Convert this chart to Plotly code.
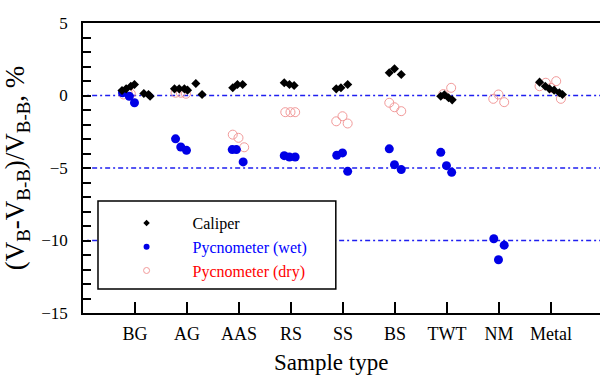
import plotly.graph_objects as go

categories = ["BG", "AG", "AAS", "RS", "SS", "BS", "TWT", "NM", "Metal"]

# Caliper
cal_cat = ["BG"]*7 + ["AG"]*6 + ["AAS"]*3 + ["RS"]*3 + ["SS"]*3 + ["BS"]*3 + ["TWT"]*4 + ["Metal"]*6
cal_dx = [-0.25, -0.17, -0.08, -0.01, 0.17, 0.26, 0.29,
          -0.24, -0.15, -0.05, 0.01, 0.17, 0.29,
          -0.12, -0.03, 0.07,
          -0.13, -0.03, 0.06,
          -0.13, -0.04, 0.09,
          -0.11, -0.01, 0.12,
          -0.12, -0.05, 0.03, 0.10,
          -0.22, -0.11, -0.03, 0.06, 0.16, 0.22]
cal_val = [0.35, 0.46, 0.64, 0.76, 0.14, 0.07, -0.05,
           0.46, 0.46, 0.46, 0.37, 0.83, 0.07,
           0.53, 0.76, 0.76,
           0.88, 0.76, 0.69,
           0.46, 0.53, 0.76,
           1.57, 1.85, 1.45,
           -0.05, 0.05, -0.15, -0.30,
           0.92, 0.64, 0.46, 0.37, 0.19, 0.07]

# Pycnometer (wet)
wet_cat = ["BG"]*3 + ["AG"]*3 + ["AAS"]*3 + ["RS"]*3 + ["SS"]*3 + ["BS"]*3 + ["TWT"]*3 + ["NM"]*3
wet_dx = [-0.24, -0.11, -0.01,
          -0.22, -0.12, -0.01,
          -0.13, -0.05, 0.08,
          -0.13, -0.03, 0.08,
          -0.12, -0.01, 0.09,
          -0.11, -0.01, 0.12,
          -0.12, -0.01, 0.09,
          -0.10, 0.10, -0.01]
wet_val = [0.19, -0.05, -0.50,
           -2.99, -3.55, -3.78,
           -3.73, -3.73, -4.58,
           -4.15, -4.24, -4.24,
           -4.12, -3.96, -5.23,
           -3.68, -4.77, -5.11,
           -3.92, -4.84, -5.30,
           -9.88, -10.32, -11.33]

# Pycnometer (dry)
dry_cat = ["BG"]*3 + ["AG"]*3 + ["AAS"]*3 + ["RS"]*3 + ["SS"]*3 + ["BS"]*3 + ["TWT"]*2 + ["NM"]*3 + ["Metal"]*5
dry_dx = [-0.22, -0.14, -0.08,
          -0.22, -0.12, -0.02,
          -0.12, -0.01, 0.10,
          -0.11, -0.01, 0.08,
          -0.13, -0.01, 0.09,
          -0.11, -0.01, 0.12,
          -0.07, 0.08,
          -0.11, -0.01, 0.10,
          -0.22, -0.10, 0.00, 0.10, 0.19]
dry_val = [0.07, 0.19, 0.12,
           0.19, 0.19, 0.12,
           -2.70, -2.92, -3.57,
           -1.15, -1.15, -1.15,
           -1.78, -1.43, -1.93,
           -0.50, -0.81, -1.08,
           0.10, 0.53,
           -0.23, 0.07, -0.46,
           0.64, 0.88, 0.53, 0.99, -0.23]

ref_lines = [0, -5, -10]
y_ticks = [5, 0, -5, -10, -15]

def xpos(cats, dxs):
    return [categories.index(c) + 1 + d for c, d in zip(cats, dxs)]

FONT = "Liberation Serif"
BLUE = "#0000e6"
RED_LINE = "#f29a9a"

fig = go.Figure()

fig.add_trace(go.Scatter(x=xpos(dry_cat, dry_dx), y=dry_val, mode="markers", showlegend=False,
                         marker=dict(symbol="circle-open", size=9, color=RED_LINE, line=dict(width=1, color=RED_LINE))))
fig.add_trace(go.Scatter(x=xpos(wet_cat, wet_dx), y=wet_val, mode="markers", showlegend=False,
                         marker=dict(symbol="circle", size=9, color=BLUE)))
fig.add_trace(go.Scatter(x=xpos(cal_cat, cal_dx), y=cal_val, mode="markers", showlegend=False,
                         marker=dict(symbol="diamond", size=7, color="black")))

# legend entries
fig.add_trace(go.Scatter(x=[None], y=[None], mode="markers", name="Caliper",
                         marker=dict(symbol="diamond", size=5, color="black")))
fig.add_trace(go.Scatter(x=[None], y=[None], mode="markers",
                         name="<span style='color:#0000ff'>Pycnometer (wet)</span>",
                         marker=dict(symbol="circle", size=6, color=BLUE)))
fig.add_trace(go.Scatter(x=[None], y=[None], mode="markers",
                         name="<span style='color:#ff0000'>Pycnometer (dry)</span>",
                         marker=dict(symbol="circle-open", size=6, color=RED_LINE, line=dict(width=1, color=RED_LINE))))

for v in ref_lines:
    fig.add_shape(type="line", xref="paper", yref="y", x0=0.008, x1=1, y0=v, y1=v,
                  line=dict(color="#1f1ff0", width=1.5, dash="2px,3px,5px,3px"), layer="below")

# legend frame
fig.add_shape(type="rect", xref="paper", yref="paper", x0=0.029, x1=0.489, y0=0.083, y1=0.386,
              fillcolor="white", line=dict(color="black", width=1.5), layer="above")

fig.add_annotation(text="Sample type", xref="paper", yref="paper", x=0.48, y=-0.172,
                   xanchor="center", yanchor="middle", showarrow=False,
                   font=dict(family=FONT, size=23, color="black"))

fig.update_layout(
    width=600, height=376,
    margin=dict(l=83, r=0, t=23, b=63),
    paper_bgcolor="white", plot_bgcolor="white",
    font=dict(family=FONT, size=17, color="black"),
    showlegend=True,
    legend=dict(x=0.034, y=0.2276, xanchor="left", yanchor="middle",
                bgcolor="rgba(0,0,0,0)", borderwidth=0,
                font=dict(family=FONT, size=16, color="black"),
                itemwidth=82, entrywidth=150, tracegroupgap=0),
    xaxis=dict(range=[0, 517/52], tickvals=list(range(1, len(categories)+1)), ticktext=categories,
               ticks="inside", ticklen=11, tickwidth=1.5, tickcolor="black",
               showline=True, linecolor="black", linewidth=1.5, mirror=True,
               showgrid=False, zeroline=False,
               ticklabelstandoff=4, tickfont=dict(family=FONT, size=18)),
    yaxis=dict(range=[-15, 5], tickvals=y_ticks, ticks="inside", ticklen=8, tickwidth=1.5, tickcolor="black",
               minor=dict(dtick=1, ticks="inside", ticklen=8, tickwidth=1.5, tickcolor="black", showgrid=False),
               showline=True, linecolor="black", linewidth=1.5,
               showgrid=False, zeroline=False, ticklabelstandoff=10,
               title=dict(text="(V<sub>B</sub>-V<sub>B-B</sub>)/V<sub>B-B</sub>, %",
                          font=dict(family=FONT, size=27), standoff=10)),
)

fig.write_html("out.html")
